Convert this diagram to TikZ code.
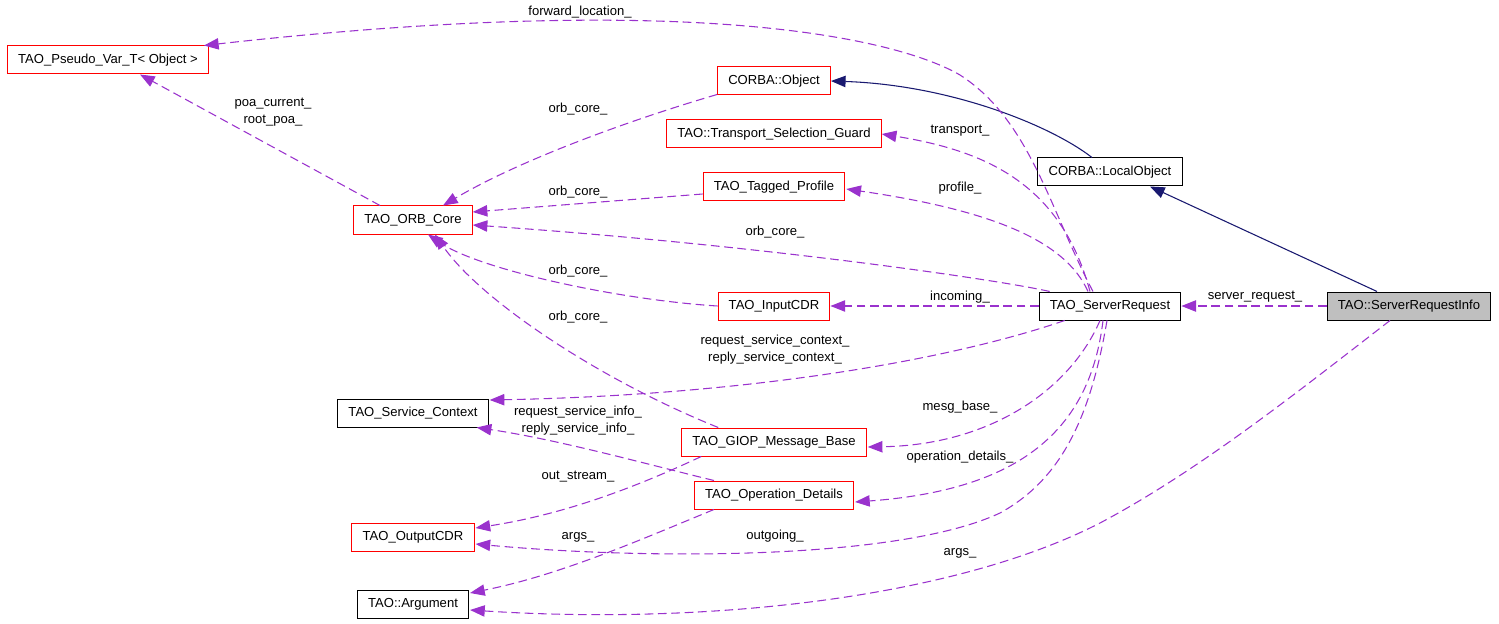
\documentclass[tikz,border=0pt]{standalone}
\usepackage{fontspec}
\setmainfont{Liberation Sans}
\usepackage{tikz}
\usetikzlibrary{arrows.meta,shapes,calc,positioning}
\definecolor{member}{HTML}{9A32CD}
\definecolor{inherit}{HTML}{191970}
\definecolor{current}{HTML}{BFBFBF}

\begin{document}
\begin{tikzpicture}[x=0.75pt, y=-0.75pt, font=\fontsize{9.8}{12.75}\selectfont,
    uses/.style={draw=member, line width=0.8pt, dash pattern=on 6.5pt off 3.5pt, -{Triangle[length=11pt,width=8.5pt]}},
    isa/.style={draw=inherit, line width=0.8pt, -{Triangle[length=11pt,width=8.5pt]}},
    lbl/.style={inner sep=0pt, align=center}]
   \useasboundingbox (0,0) rectangle (1499,624);
   \begin{scope}[every node/.style={rectangle,draw=red,line width=0.75pt,fill=white,minimum height=21pt,inner xsep=8pt,inner ysep=0pt}]
    \node (Pseudo)   at (108,60)  {TAO\_Pseudo\_Var\_T< Object >};
    \node (ORB)      at (413,220) {TAO\_ORB\_Core};
    \node (CORBAObj) at (774,81)  {CORBA::Object};
    \node (TSG)      at (774,134) {TAO::Transport\_Selection\_Guard};
    \node (TP)       at (774,187) {TAO\_Tagged\_Profile};
    \node (LocalObj) [draw=black] at (1110,172) {CORBA::LocalObject};
    \node (InCDR)    at (774,306) {TAO\_InputCDR};
    \node (SR)       [draw=black] at (1110,306) {TAO\_ServerRequest};
    \node (SRI)      [draw=black, fill=current] at (1409,306) {TAO::ServerRequestInfo};
    \node (SC)       [draw=black] at (413,413) {TAO\_Service\_Context};
    \node (GIOP)     at (774,442) {TAO\_GIOP\_Message\_Base};
    \node (OpD)      at (774,495) {TAO\_Operation\_Details};
    \node (OutCDR)   at (413,537) {TAO\_OutputCDR};
    \node (Arg)      [draw=black] at (413,604) {TAO::Argument};
   \end{scope}
   \begin{scope}
    % inheritance
    \draw[isa] ($(LocalObj.north)+(-18,0)$) .. controls (1050,125) and (950,85) .. (CORBAObj.east);
    \draw[isa] ($(SRI.north)+(-32,0)$) -- ($(LocalObj.south)+(40,0)$);
    % members
    \draw[uses] ($(SR.north)+(-17,0)$) .. controls (1050,210) and (1030,120) .. (960,75) .. controls (900,40) and (700,-10) .. ($(Pseudo.north east)+(-5,0)$);
    \draw[uses] ($(ORB.north)+(-33,0)$) -- ($(Pseudo.south)+(32,0)$);
    \draw[uses] ($(CORBAObj.south west)+(0,-1)$) .. controls (630,120) and (520,160) .. ($(ORB.north)+(30,0)$);
    \draw[uses] ($(TP.west)+(0,7)$) -- ($(ORB.east)+(0,-8)$);
    \draw[uses] ($(SR.north west)+(11,0)$) .. controls (1000,280) and (760,245) .. ($(ORB.east)+(0,5)$);
    \draw[uses] (InCDR.west) .. controls (620,300) and (480,270) .. ($(ORB.south)+(15,0)$);
    \draw[uses] ($(GIOP.north west)+(37,0)$) .. controls (600,380) and (480,300) .. ($(ORB.south)+(22,0)$);
    \draw[uses] ($(SR.north)+(-20,0)$) .. controls (1060,180) and (980,150) .. (TSG.east);
    \draw[uses] ($(SR.north)+(-22,0)$) .. controls (1065,240) and (990,210) .. ($(TP.east)+(1,2)$);
    \draw[uses] (SR.west) -- (InCDR.east);
    \draw[uses] ($(SR.south west)+(26,0)$) .. controls (950,360) and (750,395) .. ($(SC.east)+(1,-13)$);
    \draw[uses] ($(OpD.north west)+(20,0)$) .. controls (650,465) and (560,440) .. ($(SC.south east)+(-12,0)$);
    \draw[uses] ($(SR.south)+(-10,0)$) .. controls (1070,390) and (990,445) .. ($(GIOP.east)+(1,5)$);
    \draw[uses] ($(SR.south)+(-7,0)$) .. controls (1090,430) and (1020,490) .. ($(OpD.east)+(1,7)$);
    \draw[uses] ($(GIOP.south west)+(20,0)$) .. controls (630,490) and (560,515) .. ($(OutCDR.east)+(1,-9)$);
    \draw[uses] ($(SR.south)+(-3,0)$) .. controls (1090,420) and (1060,480) .. (1000,513) .. controls (900,560) and (650,560) .. ($(OutCDR.east)+(1,7)$);
    \draw[uses] ($(OpD.south west)+(20,0)$) .. controls (640,540) and (560,575) .. ($(Arg.east)+(1,-11)$);
    \draw[uses] ($(SRI.south)+(-19,0)$) .. controls (1300,390) and (1200,470) .. (1100,523) .. controls (950,600) and (700,625) .. ($(Arg.east)+(1,6)$);
    \draw[uses] (SRI.west) -- (SR.east);
   \end{scope}
   \begin{scope}[every node/.style={lbl}]
    \node (lForward)  at (580,12)  {forward\_location\_};
    \node (lPoa)      at (273,112) {poa\_current\_\\root\_poa\_};
    \node (lOrbA)     at (578,109) {orb\_core\_};
    \node (lOrbB)     at (578,192) {orb\_core\_};
    \node (lOrbC)     at (775,232) {orb\_core\_};
    \node (lOrbD)     at (578,271) {orb\_core\_};
    \node (lOrbE)     at (578,317) {orb\_core\_};
    \node (lTransport) at (960,131) {transport\_};
    \node (lProfile)  at (960,188) {profile\_};
    \node (lIncoming) at (960,297) {incoming\_};
    \node (lSvcCtx)   at (775,350) {request\_service\_context\_\\reply\_service\_context\_};
    \node (lSvcInfo)  at (578,421) {request\_service\_info\_\\reply\_service\_info\_};
    \node (lMesg)     at (960,407) {mesg\_base\_};
    \node (lOpDet)    at (960,457) {operation\_details\_};
    \node (lOutStream) at (578,477) {out\_stream\_};
    \node (lOutgoing) at (775,536) {outgoing\_};
    \node (lArgsA)    at (578,537) {args\_};
    \node (lArgsB)    at (960,553) {args\_};
    \node (lServer)   at (1255,297) {server\_request\_};
   \end{scope}
\end{tikzpicture}
\end{document}
